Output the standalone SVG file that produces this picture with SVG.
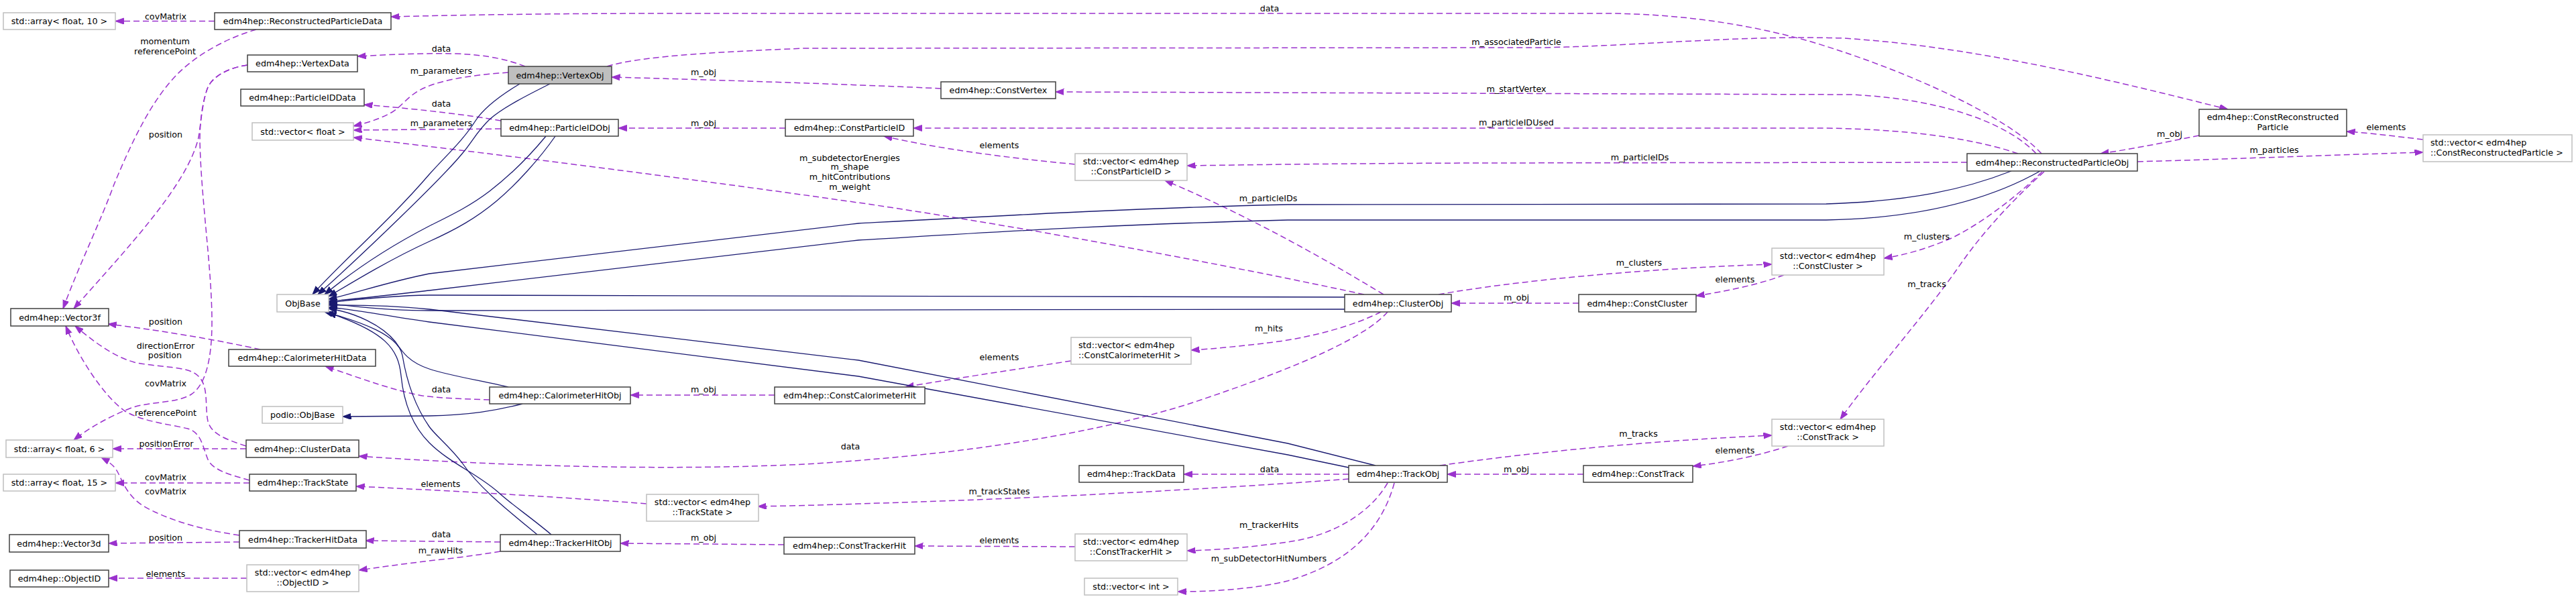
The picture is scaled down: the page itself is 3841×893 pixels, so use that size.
<svg xmlns="http://www.w3.org/2000/svg" width="3841" height="893" viewBox="0 0 3841 893">
<style>
text{font-family:"DejaVu Sans","Liberation Sans",sans-serif;font-size:12.7px;fill:#000}
.c{text-anchor:middle}
.doc{fill:#fff;stroke:#404040;stroke-width:1.5}
.und{fill:#fff;stroke:#bfbfbf;stroke-width:1.5}
.cur{fill:#bfbfbf;stroke:#404040;stroke-width:1.5}
.u{fill:none;stroke:#9a32cd;stroke-width:1.5;stroke-dasharray:9,5;marker-end:url(#ap)}
.i{fill:none;stroke:#191970;stroke-width:1.3;marker-end:url(#an)}
</style>
<defs>
<marker id="ap" markerUnits="userSpaceOnUse" markerWidth="14" markerHeight="10" refX="12.5" refY="4.5" orient="auto" viewBox="0 0 14 10"><path d="M0,0 L12.5,4.5 L0,9 Z" fill="#9a32cd" stroke="#9a32cd" stroke-width="1" stroke-dasharray="none"/></marker>
<marker id="an" markerUnits="userSpaceOnUse" markerWidth="14" markerHeight="10" refX="12.5" refY="4.5" orient="auto" viewBox="0 0 14 10"><path d="M0,0 L12.5,4.5 L0,9 Z" fill="#191970" stroke="#191970" stroke-width="1" stroke-dasharray="none"/></marker>
</defs>
<rect width="3841" height="893" fill="#fff"/>
<g id="edges">
<g><path class="u" d="M320,31.5 L172,31.5"/><text class="c" x="247" y="28.5">covMatrix</text></g>
<g><path class="u" d="M382,44 C340,56 295,80 265,110 C225,150 195,215 170,275 C150,330 118,395 94,460"/><text class="c" x="246" y="65.5">momentum</text><text class="c" x="246" y="80.5">referencePoint</text></g>
<g><path class="u" d="M369,97 C345,100 318,112 310,130 C302,150 300,180 296,205 C280,275 190,370 110,460"/><text class="c" x="247" y="204.5">position</text></g>
<g><path class="u" d="M369,97 C345,100 318,112 310,130 C302,150 298,180 298,210 C300,300 316,400 316,480 C316,540 305,575 285,588 C262,602 225,598 196,608 C160,622 130,640 110,656"/><text class="c" x="247" y="575.5">covMatrix</text></g>
<g><path class="u" d="M388,521 C330,508 250,494 161,483"/><text class="c" x="247" y="483.5">position</text></g>
<g><path class="u" d="M367,665 C340,656 315,648 310,628 C305,605 312,575 295,560 C280,545 235,548 200,540 C165,530 135,505 112,486"/><text class="c" x="247" y="519.5">directionError</text><text class="c" x="246" y="533.5">position</text></g>
<g><path class="u" d="M367,669 L168,669"/><text class="c" x="248" y="665.5">positionError</text></g>
<g><path class="u" d="M372,716 C345,708 318,702 310,685 C302,665 300,645 280,639 C250,632 210,628 185,612 C155,590 118,535 98,486"/><text class="c" x="247" y="619.5">referencePoint</text></g>
<g><path class="u" d="M372,720 L172,720"/><text class="c" x="247" y="716">covMatrix</text></g>
<g><path class="u" d="M357,798 C300,790 248,774 215,755 C190,740 183,718 175,703 C170,694 162,688 151,682"/><text class="c" x="247" y="736.5">covMatrix</text></g>
<g><path class="u" d="M357,808 L162,810"/><text class="c" x="247" y="805.5">position</text></g>
<g><path class="u" d="M368,862 L162,862"/><text class="c" x="247" y="859.5">elements</text></g>
<g><path class="u" d="M783,99 C760,90 730,82 680,80 C620,79 570,82 533,84"/><text class="c" x="658" y="76.5">data</text></g>
<g><path class="u" d="M758,108 C715,111 665,117 635,130 C610,140 600,158 585,167 C565,178 548,183 527,188"/><text class="c" x="658" y="109.5">m_parameters</text></g>
<g><path class="u" d="M747,180 C700,172 640,164 543,156"/><text class="c" x="658" y="158.5">data</text></g>
<g><path class="u" d="M747,192 L527,194"/><text class="c" x="658" y="187.5">m_parameters</text></g>
<g><path class="u" d="M2034,439 C1900,410 1600,350 1300,305 C1000,262 700,225 527,205"/><text class="c" x="1267" y="239.5">m_subdetectorEnergies</text><text class="c" x="1267" y="253">m_shape</text><text class="c" x="1267" y="267.5">m_hitContributions</text><text class="c" x="1267" y="282.5">m_weight</text></g>
<g><path class="u" d="M2063,439 C1990,395 1870,325 1737,269"/><text class="c" x="1891" y="299.5">m_particleIDs</text></g>
<g><path class="u" d="M2933,242 L2200,243 C1950,244 1850,246 1770,247"/><text class="c" x="2445" y="238.5">m_particleIDs</text></g>
<g><path class="u" d="M3009,229 C2960,212 2870,193 2720,191 L1362,191"/><text class="c" x="2261" y="186.5">m_particleIDUsed</text></g>
<g><path class="u" d="M3036,229 C3000,190 2910,148 2760,141 L1574,137"/><text class="c" x="2261" y="136.5">m_startVertex</text></g>
<g><path class="u" d="M3044,229 C3000,180 2860,110 2700,62 C2600,34 2500,21 2400,20 L1000,20 C800,20 660,23 583,25"/><text class="c" x="1893" y="16.5">data</text></g>
<g><path class="u" d="M905,99 C950,85 1050,78 1200,72 L2300,71 C2450,68 2600,52 2750,57 C2950,70 3150,120 3322,163"/><text class="c" x="2261" y="66.5">m_associatedParticle</text></g>
<g><path class="u" d="M1403,132 C1300,127 1100,120 912,115"/><text class="c" x="1049" y="111.5">m_obj</text></g>
<g><path class="u" d="M1171,191 L922,191"/><text class="c" x="1049" y="187.5">m_obj</text></g>
<g><path class="u" d="M1603,245 C1500,235 1400,222 1318,203"/><text class="c" x="1490" y="220.5">elements</text></g>
<g><path class="u" d="M3279,202 C3230,212 3180,222 3132,229"/><text class="c" x="3235" y="203.5">m_obj</text></g>
<g><path class="u" d="M3187,241 C3300,238 3450,232 3613,227"/><text class="c" x="3391" y="227.5">m_particles</text></g>
<g><path class="u" d="M3613,208 C3570,203 3540,199 3499,196"/><text class="c" x="3558" y="193.5">elements</text></g>
<g><path class="u" d="M3045,256 C3010,290 2960,330 2910,355 C2870,372 2840,380 2809,385"/><text class="c" x="2873" y="356.5">m_clusters</text></g>
<g><path class="u" d="M3048,256 C3010,290 2960,340 2919,400 C2870,470 2790,560 2744,625"/><text class="c" x="2873" y="427.5">m_tracks</text></g>
<g><path class="u" d="M2145,439 C2250,420 2450,400 2642,394"/><text class="c" x="2444" y="395.5">m_clusters</text></g>
<g><path class="u" d="M2660,410 C2620,425 2570,435 2529,441"/><text class="c" x="2587" y="420.5">elements</text></g>
<g><path class="u" d="M2354,452 L2164,452"/><text class="c" x="2261" y="447.5">m_obj</text></g>
<g><path class="u" d="M730,596 C700,595 660,594 630,590 C590,583 540,565 485,546"/><text class="c" x="658" y="584.5">data</text></g>
<g><path class="u" d="M1155,589 L940,589"/><text class="c" x="1049" y="584.5">m_obj</text></g>
<g><path class="u" d="M1597,538 C1520,550 1430,563 1350,577"/><text class="c" x="1490" y="536.5">elements</text></g>
<g><path class="u" d="M2059,465 C2020,485 1960,502 1900,510 C1850,516 1810,520 1776,522"/><text class="c" x="1892" y="493.5">m_hits</text></g>
<g><path class="u" d="M2069,465 C2030,510 1900,560 1770,603 C1600,655 1400,680 1200,692 C1000,702 750,695 535,680"/><text class="c" x="1268" y="669.5">data</text></g>
<g><path class="u" d="M2011,707 L1765,707"/><text class="c" x="1893" y="703.5">data</text></g>
<g><path class="u" d="M2011,714 C1800,730 1500,745 1280,751 C1230,753 1180,754 1130,755"/><text class="c" x="1490" y="736.5">m_trackStates</text></g>
<g><path class="u" d="M964,751 C850,742 700,733 531,725"/><text class="c" x="657" y="725.5">elements</text></g>
<g><path class="u" d="M2147,694 C2300,672 2480,656 2642,649"/><text class="c" x="2443" y="650.5">m_tracks</text></g>
<g><path class="u" d="M2666,665 C2620,680 2570,690 2524,695"/><text class="c" x="2587" y="675.5">elements</text></g>
<g><path class="u" d="M2361,707 L2158,707"/><text class="c" x="2261" y="703.5">m_obj</text></g>
<g><path class="u" d="M2069,720 C2040,770 1980,800 1920,808 C1870,815 1820,820 1770,821"/><text class="c" x="1892" y="787">m_trackerHits</text></g>
<g><path class="u" d="M2079,720 C2060,790 2010,840 1920,866 C1870,878 1810,882 1756,882"/><text class="c" x="1892" y="836.5">m_subDetectorHitNumbers</text></g>
<g><path class="u" d="M1603,815 L1364,814"/><text class="c" x="1490" y="809.5">elements</text></g>
<g><path class="u" d="M1169,812 L925,810"/><text class="c" x="1049" y="805.5">m_obj</text></g>
<g><path class="u" d="M746,808 L545,806"/><text class="c" x="658" y="800.5">data</text></g>
<g><path class="u" d="M746,822 C710,828 670,833 640,836 C600,841 570,845 535,850"/><text class="c" x="657" y="824.5">m_rawHits</text></g>
<path class="i" d="M775,125 C745,143 722,160 709,180 C690,210 665,232 640,260 C580,330 510,390 466,439"/>
<path class="i" d="M820,125 C790,140 750,160 730,178 C712,195 705,210 690,228 C660,265 540,380 474,439"/>
<path class="i" d="M814,203 C790,232 760,262 730,285 C700,308 670,322 640,337 C580,368 525,405 484,439"/>
<path class="i" d="M828,203 C805,236 770,275 740,300 C710,325 680,342 640,360 C585,385 530,418 490,442"/>
<path class="i" d="M2999,255 C2930,282 2850,300 2723,304 L1920,305 C1700,310 1520,320 1280,333 L640,408 C580,420 530,437 490,446"/>
<path class="i" d="M3042,255 C2980,290 2880,325 2723,328 L1920,328 C1650,335 1500,345 1280,358 L640,433 C580,440 530,446 490,449"/>
<path class="i" d="M2005,443 L640,440 C570,441 520,448 490,451"/>
<path class="i" d="M2005,461 L640,463 C570,463 520,455 490,453"/>
<path class="i" d="M2051,694 L1920,661 L1280,537 L640,461 C570,454 520,455 490,455"/>
<path class="i" d="M2011,697 L1920,678 L1280,561 L640,480 C570,470 520,460 490,458"/>
<path class="i" d="M758,577 C720,568 670,560 640,550 C610,540 600,525 590,510 C570,485 530,466 490,460"/>
<path class="i" d="M779,602 C740,612 700,619 640,620 L511,621"/>
<path class="i" d="M801,797 C760,763 715,728 689,690 C670,665 650,650 640,636 C615,600 605,560 600,530 C595,500 540,480 484,465"/>
<path class="i" d="M822,797 C790,770 760,750 742,733 C710,705 670,690 640,660 C615,635 602,600 598,560 C594,520 575,495 489,466"/>
</g>
<g id="n-array10"><rect class="und" x="5" y="19" width="167" height="25"/><text class="c" x="88.5" y="36">std::array&lt; float, 10 &gt;</text></g>
<g id="n-rpdata"><rect class="doc" x="320" y="19" width="263" height="25"/><text class="c" x="451.5" y="36">edm4hep::ReconstructedParticleData</text></g>
<g id="n-vertexdata"><rect class="doc" x="369" y="82" width="164" height="25"/><text class="c" x="451" y="99">edm4hep::VertexData</text></g>
<g id="n-piddata"><rect class="doc" x="359" y="133" width="184" height="25"/><text class="c" x="451" y="150">edm4hep::ParticleIDData</text></g>
<g id="n-vecfloat"><rect class="und" x="376" y="183" width="151" height="26"/><text class="c" x="451.5" y="200.5">std::vector&lt; float &gt;</text></g>
<g id="n-objbase"><rect class="und" x="413" y="439" width="77" height="26"/><text class="c" x="451.5" y="456.5">ObjBase</text></g>
<g id="n-vector3f"><rect class="doc" x="16" y="460" width="146" height="26"/><text class="c" x="89" y="477.5">edm4hep::Vector3f</text></g>
<g id="n-calhitdata"><rect class="doc" x="341" y="521" width="219" height="25"/><text class="c" x="450.5" y="538">edm4hep::CalorimeterHitData</text></g>
<g id="n-podioobjbase"><rect class="und" x="391" y="606" width="120" height="25"/><text class="c" x="451" y="623">podio::ObjBase</text></g>
<g id="n-array6"><rect class="und" x="9" y="656" width="159" height="26"/><text class="c" x="88.5" y="673.5">std::array&lt; float, 6 &gt;</text></g>
<g id="n-clusterdata"><rect class="doc" x="367" y="656" width="168" height="26"/><text class="c" x="451" y="673.5">edm4hep::ClusterData</text></g>
<g id="n-array15"><rect class="und" x="5" y="707" width="167" height="25"/><text class="c" x="88.5" y="724">std::array&lt; float, 15 &gt;</text></g>
<g id="n-trackstate"><rect class="doc" x="372" y="707" width="159" height="25"/><text class="c" x="451.5" y="724">edm4hep::TrackState</text></g>
<g id="n-vector3d"><rect class="doc" x="14" y="797" width="148" height="26"/><text class="c" x="88" y="814.5">edm4hep::Vector3d</text></g>
<g id="n-trackerhitdata"><rect class="doc" x="357" y="791" width="189" height="26"/><text class="c" x="451.5" y="808.5">edm4hep::TrackerHitData</text></g>
<g id="n-objectid"><rect class="doc" x="15" y="850" width="147" height="25"/><text class="c" x="88.5" y="867">edm4hep::ObjectID</text></g>
<g id="n-vecobjectid"><rect class="und" x="368" y="842" width="167" height="40"/><text class="c" x="451.5" y="858">std::vector&lt; edm4hep</text><text class="c" x="451.5" y="873">::ObjectID &gt;</text></g>
<g id="n-vertexobj"><rect class="cur" x="758" y="99" width="154" height="26"/><text class="c" x="835" y="116.5">edm4hep::VertexObj</text></g>
<g id="n-pidobj"><rect class="doc" x="747" y="178" width="175" height="25"/><text class="c" x="834.5" y="195">edm4hep::ParticleIDObj</text></g>
<g id="n-constpid"><rect class="doc" x="1171" y="178" width="191" height="25"/><text class="c" x="1266.5" y="195">edm4hep::ConstParticleID</text></g>
<g id="n-calhitobj"><rect class="doc" x="730" y="577" width="210" height="25"/><text class="c" x="835" y="594">edm4hep::CalorimeterHitObj</text></g>
<g id="n-constcalhit"><rect class="doc" x="1155" y="577" width="224" height="25"/><text class="c" x="1267" y="594">edm4hep::ConstCalorimeterHit</text></g>
<g id="n-vectrackstate"><rect class="und" x="964" y="737" width="167" height="40"/><text class="c" x="1047.5" y="753">std::vector&lt; edm4hep</text><text class="c" x="1047.5" y="768">::TrackState &gt;</text></g>
<g id="n-trackerhitobj"><rect class="doc" x="746" y="797" width="179" height="25"/><text class="c" x="835.5" y="814">edm4hep::TrackerHitObj</text></g>
<g id="n-consttrackerhit"><rect class="doc" x="1169" y="801" width="195" height="25"/><text class="c" x="1266.5" y="818">edm4hep::ConstTrackerHit</text></g>
<g id="n-constvertex"><rect class="doc" x="1403" y="122" width="171" height="25"/><text class="c" x="1488.5" y="139">edm4hep::ConstVertex</text></g>
<g id="n-vecconstpid"><rect class="und" x="1603" y="229" width="167" height="40"/><text class="c" x="1686.5" y="245">std::vector&lt; edm4hep</text><text class="c" x="1686.5" y="260">::ConstParticleID &gt;</text></g>
<g id="n-vecconstcalhit"><rect class="und" x="1597" y="503" width="179" height="40"/><text x="1608" y="519">std::vector&lt; edm4hep</text><text x="1608" y="534">::ConstCalorimeterHit &gt;</text></g>
<g id="n-trackdata"><rect class="doc" x="1609" y="694" width="156" height="25"/><text class="c" x="1687" y="711">edm4hep::TrackData</text></g>
<g id="n-vecconsttrackerhit"><rect class="und" x="1603" y="796" width="167" height="40"/><text class="c" x="1686.5" y="812">std::vector&lt; edm4hep</text><text class="c" x="1686.5" y="827">::ConstTrackerHit &gt;</text></g>
<g id="n-vecint"><rect class="und" x="1617" y="862" width="139" height="25"/><text class="c" x="1686.5" y="879">std::vector&lt; int &gt;</text></g>
<g id="n-clusterobj"><rect class="doc" x="2005" y="439" width="159" height="26"/><text class="c" x="2084.5" y="456.5">edm4hep::ClusterObj</text></g>
<g id="n-constcluster"><rect class="doc" x="2354" y="439" width="175" height="26"/><text class="c" x="2441.5" y="456.5">edm4hep::ConstCluster</text></g>
<g id="n-trackobj"><rect class="doc" x="2011" y="694" width="147" height="25"/><text class="c" x="2084.5" y="711">edm4hep::TrackObj</text></g>
<g id="n-consttrack"><rect class="doc" x="2361" y="694" width="163" height="25"/><text class="c" x="2442.5" y="711">edm4hep::ConstTrack</text></g>
<g id="n-rpobj"><rect class="doc" x="2933" y="229" width="254" height="26"/><text class="c" x="3060" y="246.5">edm4hep::ReconstructedParticleObj</text></g>
<g id="n-vecconstcluster"><rect class="und" x="2642" y="370" width="167" height="40"/><text class="c" x="2725.5" y="386">std::vector&lt; edm4hep</text><text class="c" x="2725.5" y="401">::ConstCluster &gt;</text></g>
<g id="n-vecconsttrack"><rect class="und" x="2642" y="625" width="167" height="40"/><text class="c" x="2725.5" y="641">std::vector&lt; edm4hep</text><text class="c" x="2725.5" y="656">::ConstTrack &gt;</text></g>
<g id="n-constrp"><rect class="doc" x="3279" y="163" width="220" height="40"/><text class="c" x="3389" y="179">edm4hep::ConstReconstructed</text><text class="c" x="3389" y="194">Particle</text></g>
<g id="n-vecconstrp"><rect class="und" x="3613" y="201" width="222" height="40"/><text x="3624" y="217">std::vector&lt; edm4hep</text><text x="3624" y="232">::ConstReconstructedParticle &gt;</text></g>
</svg>
